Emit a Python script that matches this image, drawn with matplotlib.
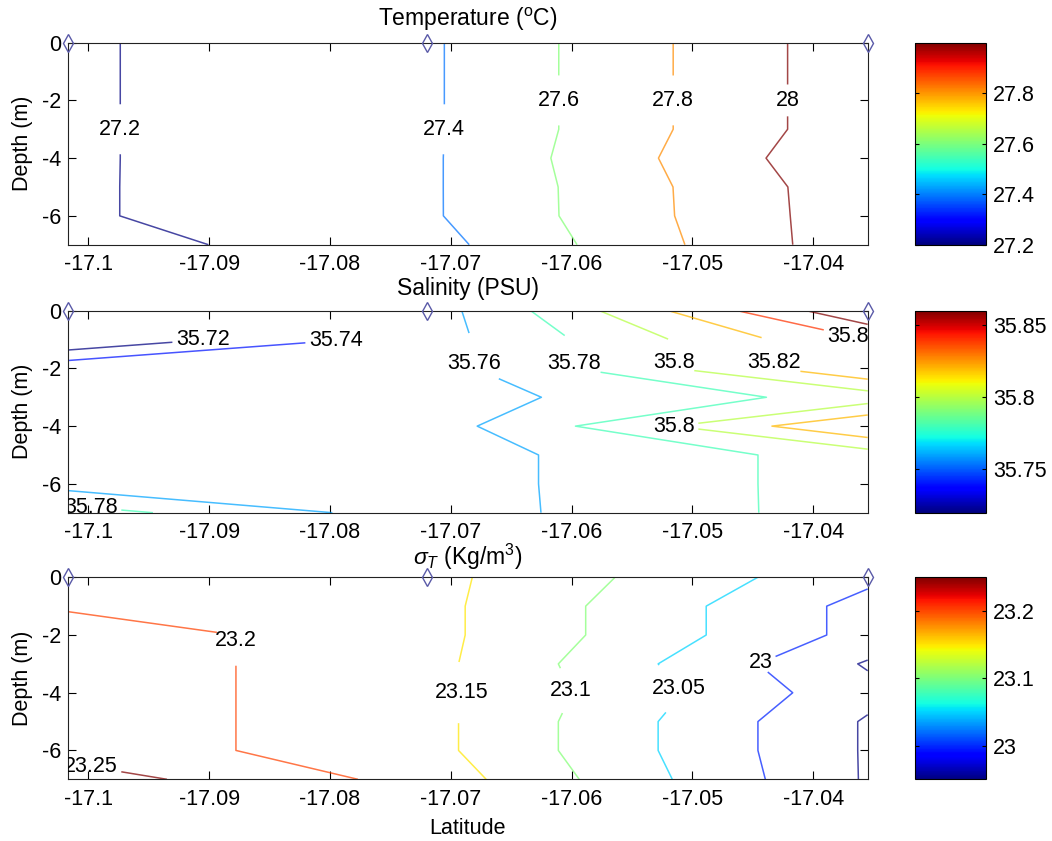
import numpy as np
import matplotlib.pyplot as plt
from matplotlib import cm, colors

plt.rcParams['font.family'] = ['Liberation Sans', 'DejaVu Sans']
plt.rcParams['mathtext.fontset'] = 'custom'
plt.rcParams['mathtext.rm'] = 'Liberation Sans'
plt.rcParams['mathtext.it'] = 'Liberation Sans:italic'
plt.rcParams['mathtext.bf'] = 'Liberation Sans:bold'
plt.rcParams['axes.unicode_minus'] = False
plt.rcParams['font.size'] = 15.5

# station latitudes and sampled depths (m)
lat = [-17.1017, -17.0720, -17.0355]
depth = [0, 1, 2, 3, 4, 5, 6, 7]

# rows = depth, columns = stations
temperature = [
    [27.171, 27.369, 28.140],
    [27.171, 27.369, 28.140],
    [27.171, 27.369, 28.140],
    [27.171, 27.369, 28.140],
    [27.171, 27.369, 28.189],
    [27.171, 27.371, 28.139],
    [27.171, 27.371, 28.134],
    [27.122, 27.321, 28.139],
]
salinity = [
    [np.nan, 35.7498, 35.8778],
    [35.700, 35.7510, 35.8401],
    [35.755, 35.7503, 35.8384],
    [35.753, 35.7498, 35.7890],
    [35.752, 35.7497, 35.8395],
    [35.752, 35.7498, 35.7900],
    [35.751, 35.7498, 35.7900],
    [35.7895, 35.7495, 35.7900],
]
sigma_t = [
    [23.190, 23.166, 23.0115],
    [23.193, 23.166, 22.983],
    [23.230, 23.166, 22.983],
    [23.230, 23.166, 22.945],
    [23.230, 23.166, 22.966],
    [23.230, 23.166, 22.945],
    [23.230, 23.166, 22.945],
    [23.276, 23.182, 22.945],
]

temp_levels = [27.2, 27.4, 27.6, 27.8, 28.0]
sal_levels = [35.72, 35.74, 35.76, 35.78, 35.80, 35.82, 35.84, 35.86]
sig_levels = [22.95, 23.0, 23.05, 23.1, 23.15, 23.2, 23.25]

temp_cticks = [27.2, 27.4, 27.6, 27.8]
sal_cticks = [35.75, 35.8, 35.85]
sig_cticks = [23.0, 23.1, 23.2]

xticks = [-17.1, -17.09, -17.08, -17.07, -17.06, -17.05, -17.04]
xticklabels = ['-17.1', '-17.09', '-17.08', '-17.07', '-17.06', '-17.05', '-17.04']
yticks = [0, -2, -4, -6]

# where the contour labels sit
temp_lab = [(-17.0973, -3.0), (-17.0706, -3.0), (-17.0611, -2.0), (-17.0516, -2.0), (-17.0421, -2.0)]
sal_lab = [(-17.0905, -0.95), (-17.0795, -0.95), (-17.0676, -1.8), (-17.0595, -1.8),
           (-17.0515, -1.8), (-17.0432, -1.8), (-17.0367, -1.0), (-17.0998, -6.8),
           (-17.0520, -4.0)]
sig_lab = [(-17.0881, -2.2), (-17.0998, -6.6), (-17.0692, -4.0), (-17.0604, -4.0),
           (-17.0515, -4.0), (-17.0443, -3.0)]

panels = [
    (temperature, temp_levels, temp_cticks, temp_lab, r'Temperature ($^{\rm o}$C)', 12),
    (salinity, sal_levels, sal_cticks, sal_lab, 'Salinity (PSU)', 11.5),
    (sigma_t, sig_levels, sig_cticks, sig_lab, r'$\sigma_T$ (Kg/m$^3$)', 9),
]

W, H = 1052, 841
fig = plt.figure(figsize=(W / 100, H / 100), dpi=100)
cmap = plt.get_cmap('jet', 64)

tops = [42.7, 310.7, 577.3]
ax_h = 202.0
X, Y = np.meshgrid(lat, -np.array(depth))

for i, (data, levels, cticks, labpos, title, tpad) in enumerate(panels):
    top = tops[i]
    ax = fig.add_axes([67.7 / W, 1 - (top + ax_h) / H, 800 / W, ax_h / H])
    Z = np.ma.masked_invalid(np.array(data, dtype=float))
    norm = colors.Normalize(vmin=min(levels), vmax=max(levels))
    cs = ax.contour(X, Y, Z, levels=levels, cmap=cmap, norm=norm,
                    linewidths=1.1, alpha=0.72, corner_mask=False)
    txts = ax.clabel(cs, manual=labpos, inline=True, fmt='%g', fontsize=15.5,
                     colors='k', inline_spacing=4)
    for t in txts:
        t.set_rotation(0)
        t.set_alpha(1)
        t.set_clip_path(ax.patch)
        t.set_clip_on(True)
    ax.plot(lat, [0, 0, 0], 'd', mfc='none', mec='#5a5aa8', ms=9, mew=1.0,
            clip_on=False, zorder=5)
    ax.set_xlim(lat[0], lat[-1])
    ax.set_ylim(-7, 0)
    ax.set_xticks(xticks)
    ax.set_xticklabels(xticklabels)
    ax.set_yticks(yticks)
    ax.set_yticklabels([str(v) for v in yticks])
    ax.tick_params(axis='x', pad=7)
    ax.tick_params(axis='y', pad=5)
    ax.tick_params(direction='in', top=True, right=True, length=6, width=0.8)
    for s in ax.spines.values():
        s.set_linewidth(0.8)
        s.set_color('#222222')
    ax.set_ylabel('Depth (m)', labelpad=6)
    ax.set_title(title, fontsize=16.5, pad=tpad)
    if i == 2:
        ax.set_xlabel('Latitude', labelpad=6)

    cax = fig.add_axes([915 / W, 1 - (top + ax_h) / H, 71 / W, ax_h / H])
    sm = cm.ScalarMappable(norm=norm, cmap=plt.get_cmap('jet'))
    cb = fig.colorbar(sm, cax=cax, ticks=cticks, format='%g')
    cb.outline.set_linewidth(0.8)
    cax.tick_params(direction='in', left=True, right=True, length=3, width=0.8,
                    labelsize=15.5, pad=5)

fig.savefig('out.png', dpi=100)
